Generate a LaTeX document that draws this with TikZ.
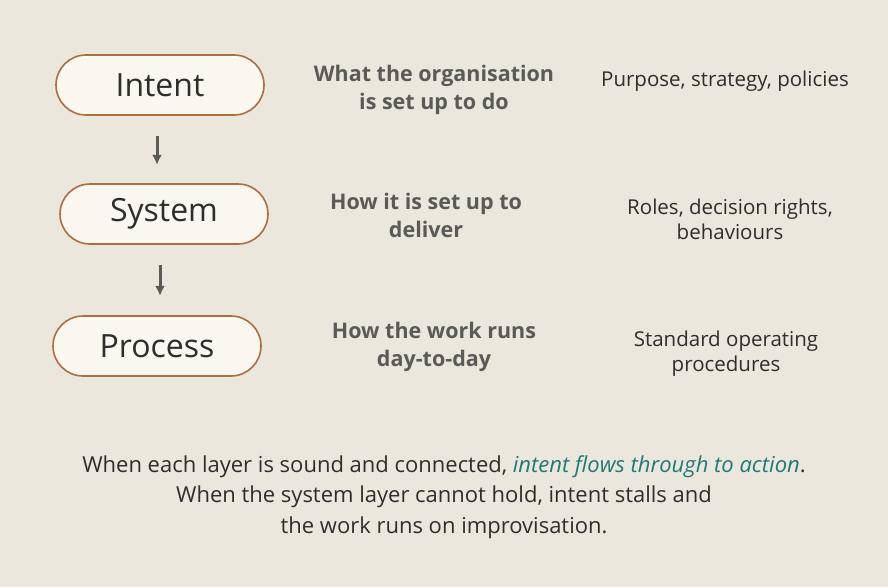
\documentclass[tikz,border=0pt]{standalone}
\usepackage{fontspec}
\setmainfont{Open Sans}
\definecolor{bgc}{HTML}{ECE7DC}
\definecolor{pillfill}{HTML}{FAF6F0}
\definecolor{pillline}{HTML}{B06E3C}
\definecolor{midtext}{HTML}{5A5A56}
\definecolor{darktext}{HTML}{2E2E2C}
\definecolor{tealc}{HTML}{1E7A78}
\definecolor{arrowc}{HTML}{5A5A56}
\tikzset{
    pill/.style={draw=pillline,line width=1.6pt,fill=pillfill,rounded corners=30pt,
        minimum width=208pt,minimum height=60pt,text=darktext,font=\fontsize{32}{36}\selectfont},
    what/.style={align=center,text=midtext,font=\bfseries\fontsize{21.5}{28}\selectfont},
    note/.style={align=center,text=darktext,font=\fontsize{20.5}{25}\selectfont},
    down/.style={-{Latex[length=10pt,width=10pt]},line width=3pt,draw=arrowc}
}
\usetikzlibrary{arrows.meta}
\begin{document}
\begin{tikzpicture}[x=1pt,y=-1pt]
        \fill[bgc](0,0)rectangle(888,587);
        \useasboundingbox(0,0)rectangle(888,587);

        \node[pill](intent) at (160,85){Intent};
        \node[pill](system) at (164,214){System};
        \node[pill](process) at (157,346){Process};

        \draw[down](intent.south)++(-3,20)coordinate(a1)--++(0,29)coordinate(a2);
        \draw[down](system.south)++(-4,20)coordinate(b1)--++(0,31)coordinate(b2);

        \node[what](whatI) at (434,90){What the organisation\\is set up to do};
        \node[what](whatS) at (426,215){How it is set up to\\deliver};
        \node[what](whatP) at (434,347){How the work runs\\day-to-day};

        \node[note](noteI) at (725,81){Purpose, strategy, policies};
        \node[note](noteS) at (730,219){Roles, decision rights,\\behaviours};
        \node[note](noteP) at (726,354){Standard operating\\procedures};

        \node[note,font=\fontsize{22}{30.5}\selectfont](summary) at (444,497)
            {When each layer is sound and connected, \textcolor{tealc}{\itshape intent flows through to action}.\\
             When the system layer cannot hold, intent stalls and\\
             the work runs on improvisation.};
    \end{tikzpicture}
\end{document}
